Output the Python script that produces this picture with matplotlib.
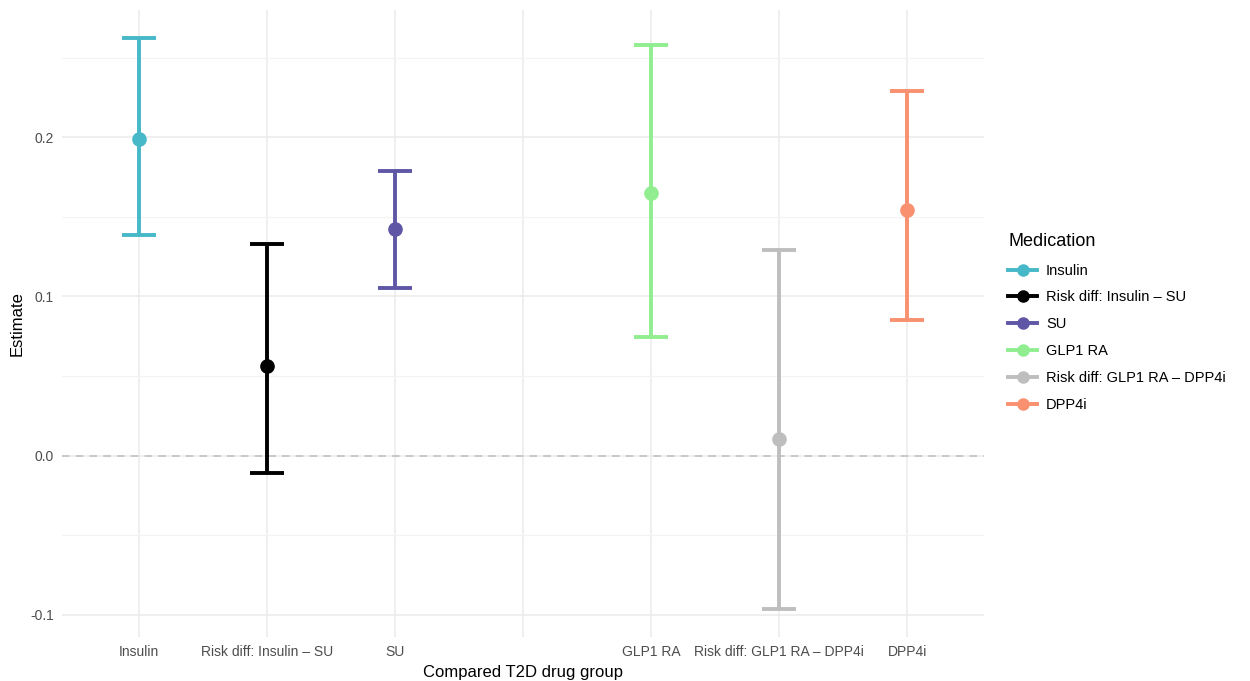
import matplotlib.pyplot as plt
from matplotlib.lines import Line2D

# data
categories = ["Insulin", "Risk diff: Insulin \u2013 SU", "SU", "",
              "GLP1 RA", "Risk diff: GLP1 RA \u2013 DPP4i", "DPP4i"]
groups = ["Insulin", "Risk diff: Insulin \u2013 SU", "SU",
          "GLP1 RA", "Risk diff: GLP1 RA \u2013 DPP4i", "DPP4i"]
estimate = [0.199, 0.0566, 0.1421, 0.1648, 0.0107, 0.1541]
lower = [0.1384, -0.0107, 0.105, 0.0748, -0.0962, 0.0849]
upper = [0.2623, 0.1327, 0.1786, 0.2579, 0.1289, 0.2289]
colors = ["#46B8C8", "#000000", "#5F57A6", "#90EE90", "#BEBEBE", "#F9906F"]

plt.rcParams['font.family'] = ['Liberation Sans', 'DejaVu Sans']

fig = plt.figure(figsize=(12.5, 6.81), dpi=100)
ax = fig.add_axes([62 / 1250, 44 / 681, 922 / 1250, 627 / 681])

xpos = {c: i for i, c in enumerate(categories)}

for g, e, lo, hi, col in zip(groups, estimate, lower, upper, colors):
    x = xpos[g]
    ax.errorbar(x, e, yerr=[[e - lo], [hi - e]], fmt='none', ecolor=col,
                elinewidth=2.8, capsize=12.5, capthick=2.8, zorder=3)
    ax.plot(x, e, 'o', color=col, markersize=9.5, zorder=4)

ax.axhline(0, color='#BEBEBE', linestyle=(0, (5, 4)), linewidth=1.1, zorder=2)

ax.set_xlim(-0.6, 6.6)
ax.set_ylim(-0.114, 0.280)
ax.set_xticks(range(len(categories)))
ax.set_xticklabels(categories)
ax.set_yticks([-0.1, 0.0, 0.1, 0.2])
ax.set_yticklabels(["-0.1", "0.0", "0.1", "0.2"])
ax.set_yticks([-0.05, 0.05, 0.15, 0.25], minor=True)

ax.grid(True, which='major', color='#EBEBEB', linewidth=1.1, zorder=0)
ax.grid(True, which='minor', axis='y', color='#F3F3F3', linewidth=0.8, zorder=0)
ax.set_axisbelow(True)
for s in ax.spines.values():
    s.set_visible(False)
ax.tick_params(which='both', length=0, labelsize=10, labelcolor='#4D4D4D', pad=6)

ax.set_xlabel("Compared T2D drug group", fontsize=12, labelpad=4)
ax.set_ylabel("Estimate", fontsize=12, labelpad=4)

handles = [Line2D([0], [0], color=c, linewidth=2.8, marker='o', markersize=8)
           for c in colors]
leg = ax.legend(handles, groups, title="Medication", loc='center left',
                bbox_to_anchor=(1.012, 0.502), frameon=False, fontsize=10.5,
                title_fontsize=13, handlelength=2.0, labelspacing=0.88,
                handletextpad=0.6)
leg._legend_box.align = "left"
leg._legend_box.sep = 10

plt.savefig('out.png')
